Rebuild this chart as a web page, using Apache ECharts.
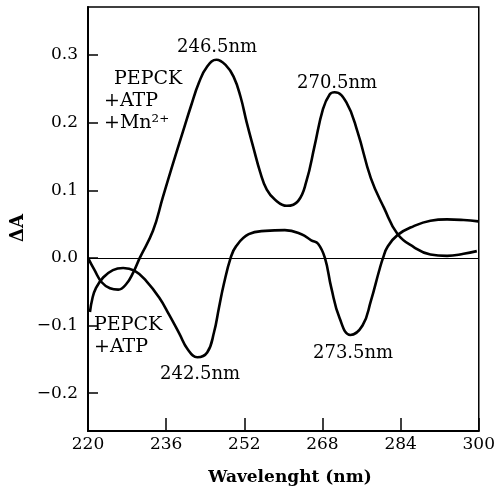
<!DOCTYPE html>
<html>
<head>
<meta charset="utf-8">
<script src="https://cdn.jsdelivr.net/npm/echarts@6/dist/echarts.min.js"></script>
<style>
html,body{margin:0;padding:0;background:#fff;}
#main{width:498px;height:494px;}
</style>
</head>
<body>
<div id="main"></div>
<script>
// Wavelength (nm) and ΔA readings for PEPCK + ATP + Mn2+
const mnWave = [220.0, 221.4, 222.8, 224.5, 226.2, 227.8, 229.3, 230.6, 233.3, 235.3, 237.3, 239.4, 241.1, 242.7, 244.4, 246.3, 248.2, 249.8, 251.2, 252.5, 253.9, 255.2, 256.6, 258.3, 260.7, 263.0, 264.7, 266.4, 268.1, 269.5, 270.5, 272.9, 275.2, 277.9, 280.6, 283.4, 286.7, 290.1, 293.5, 296.9, 299.6];
const mnVal  = [0.000, -0.019, -0.036, -0.045, -0.047, -0.039, -0.021, 0.000, 0.040, 0.089, 0.137, 0.186, 0.225, 0.259, 0.283, 0.293, 0.285, 0.268, 0.239, 0.200, 0.162, 0.128, 0.101, 0.086, 0.077, 0.084, 0.113, 0.166, 0.220, 0.242, 0.245, 0.230, 0.186, 0.118, 0.074, 0.035, 0.016, 0.005, 0.003, 0.006, 0.010];
// Wavelength (nm) and ΔA readings for PEPCK + ATP
const atpWave = [220.4, 220.9, 221.6, 223.1, 225.1, 227.2, 229.5, 231.9, 234.6, 236.6, 238.7, 240.4, 242.4, 244.4, 245.8, 246.8, 247.8, 249.2, 250.3, 252.9, 256.3, 260.3, 263.7, 265.7, 267.1, 268.5, 269.8, 271.5, 273.7, 276.2, 277.9, 279.6, 280.4, 281.3, 283.4, 286.7, 290.1, 293.5, 296.9, 299.9];
const atpVal  = [-0.080, -0.060, -0.045, -0.029, -0.018, -0.015, -0.019, -0.034, -0.059, -0.084, -0.112, -0.135, -0.147, -0.140, -0.110, -0.074, -0.039, 0.000, 0.017, 0.035, 0.040, 0.041, 0.035, 0.026, 0.021, 0.000, -0.044, -0.089, -0.114, -0.100, -0.064, -0.019, 0.000, 0.016, 0.034, 0.047, 0.055, 0.057, 0.056, 0.054];
const xTicks = [220, 236, 252, 268, 284, 300];
const peakLabels = ['246.5nm', '270.5nm', '242.5nm', '273.5nm'];

const pairs = (xs, ys) => xs.map((x, i) => [x, ys[i]]);
const serif = 'DejaVu Serif';

const chart = echarts.init(document.getElementById('main'), null, {renderer: 'canvas'});
chart.setOption({
  animation: false,
  backgroundColor: '#fff',
  grid: {left: 88, right: 16, top: 7, bottom: 63, show: true, borderColor: '#000', borderWidth: 1.5},
  xAxis: {
    type: 'value', min: xTicks[0], max: xTicks[xTicks.length - 1], interval: 16,
    axisLine: {onZero: false, lineStyle: {color: '#000', width: 2}},
    axisTick: {inside: true, length: 13, lineStyle: {color: '#000', width: 1.5}},
    axisLabel: {color: '#000', fontFamily: serif, fontSize: 17, margin: 5},
    splitLine: {show: false}
  },
  yAxis: {
    type: 'value', min: -0.256, max: 0.371, splitNumber: 6,
    axisLine: {show: true, onZero: false, lineStyle: {color: '#000', width: 2}},
    axisTick: {show: true, inside: true, length: 10, lineStyle: {color: '#000', width: 1.5}},
    axisLabel: {
      color: '#000', fontFamily: serif, fontSize: 17, margin: 10,
      showMinLabel: false, showMaxLabel: false,
      formatter: v => Math.abs(v) < 1e-9 ? '0.0' : (v < 0 ? '\u2212' : '') + Math.abs(v).toFixed(1)
    },
    splitLine: {show: false}
  },
  series: [
    {
      type: 'line', data: pairs(mnWave, mnVal), smooth: 0.45, showSymbol: false,
      lineStyle: {color: '#000', width: 2.6},
      markLine: {silent: true, symbol: 'none', label: {show: false},
        lineStyle: {color: '#000', width: 1.2, type: 'solid'}, data: [{yAxis: 0}]}
    },
    {
      type: 'line', data: pairs(atpWave, atpVal), smooth: 0.45, showSymbol: false,
      lineStyle: {color: '#000', width: 2.6}
    }
  ],
  graphic: [
    {type: 'text', left: 177, top: 38, style: {text: peakLabels[0], font: '18px "DejaVu Serif"', fill: '#000'}},
    {type: 'text', left: 297, top: 74, style: {text: peakLabels[1], font: '18px "DejaVu Serif"', fill: '#000'}},
    {type: 'text', left: 160, top: 365, style: {text: peakLabels[2], font: '18px "DejaVu Serif"', fill: '#000'}},
    {type: 'text', left: 313, top: 344, style: {text: peakLabels[3], font: '18px "DejaVu Serif"', fill: '#000'}},
    {type: 'text', left: 114, top: 70, style: {text: 'PEPCK', font: '19px "DejaVu Serif"', fill: '#000'}},
    {type: 'text', left: 104, top: 92, style: {text: '+ATP', font: '19px "DejaVu Serif"', fill: '#000'}},
    {type: 'text', left: 104, top: 114, style: {text: '+Mn\u00B2\u207A', font: '19px "DejaVu Serif"', fill: '#000'}},
    {type: 'text', left: 94, top: 316, style: {text: 'PEPCK', font: '19px "DejaVu Serif"', fill: '#000'}},
    {type: 'text', left: 94, top: 338, style: {text: '+ATP', font: '19px "DejaVu Serif"', fill: '#000'}},
    {type: 'text', x: 18, y: 228, rotation: Math.PI / 2,
      style: {text: '\u0394A', font: 'bold 18px "DejaVu Serif"', fill: '#000', align: 'center', verticalAlign: 'middle'}},
    {type: 'text', x: 290, y: 478,
      style: {text: 'Wavelenght (nm)', font: 'bold 17px "DejaVu Serif"', fill: '#000', align: 'center', verticalAlign: 'middle'}}
  ]
});
</script>
</body>
</html>
